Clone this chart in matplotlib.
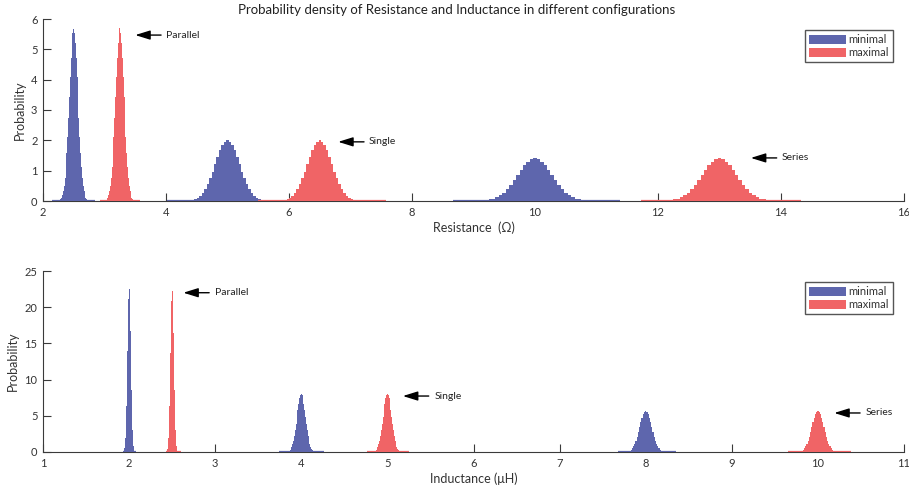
import numpy as np
import matplotlib
matplotlib.use("Agg")
import matplotlib.pyplot as plt
from matplotlib.patches import Patch

plt.rcParams['font.family'] = ['Lato', 'DejaVu Sans']

BLUE = '#5e66ad'
RED = '#f06466'
AX_COL = '#3a3a3a'

# ---------------- Resistance panel ----------------
r_centers_min = [2.5, 5.0, 10.0]
r_centers_max = [3.25, 6.5, 13.0]
r_bin_width = [0.014, 0.04, 0.056]
r_range_min = [(2.15, 2.85), (4.02, 5.48), (8.66, 11.38)]
r_range_max = [(2.93, 3.58), (5.50, 7.57), (11.73, 14.33)]

r_par_min = [0.01, 0.02, 0.03, 0.06, 0.11, 0.19, 0.32, 0.50, 0.76, 1.12, 1.57, 2.12, 2.75,
             3.43, 4.10, 4.72, 5.22, 5.54, 5.68, 5.54, 5.22, 4.72, 4.10, 3.43, 2.75, 2.12,
             1.57, 1.12, 0.76, 0.50, 0.32, 0.19, 0.11, 0.06, 0.03, 0.02, 0.01]
r_par_max = [0.01, 0.02, 0.03, 0.06, 0.11, 0.19, 0.32, 0.50, 0.76, 1.12, 1.57, 2.12, 2.75,
             3.43, 4.10, 4.72, 5.22, 5.54, 5.70, 5.54, 5.22, 4.72, 4.10, 3.43, 2.75, 2.12,
             1.57, 1.12, 0.76, 0.50, 0.32, 0.19, 0.11, 0.06, 0.03, 0.02, 0.01]
r_sgl_min = [0.00, 0.01, 0.01, 0.02, 0.04, 0.07, 0.11, 0.18, 0.27, 0.40, 0.56, 0.75, 0.97,
             1.21, 1.45, 1.67, 1.85, 1.96, 2.00, 1.96, 1.85, 1.67, 1.45, 1.21, 0.97, 0.75,
             0.56, 0.40, 0.27, 0.18, 0.11, 0.07, 0.04, 0.02, 0.01, 0.01, 0.00]
r_sgl_max = [0.00, 0.01, 0.01, 0.02, 0.04, 0.07, 0.11, 0.18, 0.27, 0.40, 0.56, 0.75, 0.97,
             1.21, 1.45, 1.67, 1.85, 1.96, 2.00, 1.96, 1.85, 1.67, 1.45, 1.21, 0.97, 0.75,
             0.56, 0.40, 0.27, 0.18, 0.11, 0.07, 0.04, 0.02, 0.01, 0.01, 0.00]
r_ser_min = [0.00, 0.00, 0.01, 0.02, 0.03, 0.05, 0.08, 0.13, 0.19, 0.28, 0.39, 0.53, 0.69,
             0.86, 1.02, 1.18, 1.30, 1.38, 1.41, 1.38, 1.30, 1.18, 1.02, 0.86, 0.69, 0.53,
             0.39, 0.28, 0.19, 0.13, 0.08, 0.05, 0.03, 0.02, 0.01, 0.00, 0.00]
r_ser_max = [0.00, 0.00, 0.01, 0.02, 0.03, 0.05, 0.08, 0.13, 0.19, 0.28, 0.39, 0.53, 0.69,
             0.86, 1.02, 1.18, 1.30, 1.38, 1.41, 1.38, 1.30, 1.18, 1.02, 0.86, 0.69, 0.53,
             0.39, 0.28, 0.19, 0.13, 0.08, 0.05, 0.03, 0.02, 0.01, 0.00, 0.00]

# ---------------- Inductance panel ----------------
l_centers_min = [2.0, 4.0, 8.0]
l_centers_max = [2.5, 5.0, 10.0]
l_bin_width = [0.0038, 0.01, 0.014]
l_range_min = [(1.93, 2.08), (3.74, 4.26), (7.68, 8.35)]
l_range_max = [(2.43, 2.60), (4.76, 5.25), (9.65, 10.38)]

l_par_min = [0.0, 0.1, 0.1, 0.3, 0.5, 0.8, 1.3, 2.0, 3.1, 4.6, 6.4, 8.6, 11.2, 14.0, 16.7,
             19.2, 21.2, 22.5, 23.0, 22.5, 21.2, 19.2, 16.7, 14.0, 11.2, 8.6, 6.4, 4.6, 3.1,
             2.0, 1.3, 0.8, 0.5, 0.3, 0.1, 0.1, 0.0]
l_par_max = [0.0, 0.1, 0.1, 0.3, 0.4, 0.8, 1.3, 2.0, 3.1, 4.5, 6.3, 8.5, 11.0, 13.7, 16.4,
             18.9, 20.9, 22.2, 22.6, 22.2, 20.9, 18.9, 16.4, 13.7, 11.0, 8.5, 6.3, 4.5, 3.1,
             2.0, 1.3, 0.8, 0.4, 0.3, 0.1, 0.1, 0.0]
l_sgl_min = [0.01, 0.02, 0.05, 0.09, 0.16, 0.27, 0.45, 0.71, 1.08, 1.58, 2.22, 3.00, 3.89,
             4.85, 5.81, 6.68, 7.39, 7.84, 8.00, 7.84, 7.39, 6.68, 5.81, 4.85, 3.89, 3.00,
             2.22, 1.58, 1.08, 0.71, 0.45, 0.27, 0.16, 0.09, 0.05, 0.02, 0.01]
l_sgl_max = [0.01, 0.02, 0.05, 0.09, 0.16, 0.27, 0.45, 0.71, 1.08, 1.58, 2.22, 3.00, 3.89,
             4.85, 5.81, 6.68, 7.39, 7.84, 8.00, 7.84, 7.39, 6.68, 5.81, 4.85, 3.89, 3.00,
             2.22, 1.58, 1.08, 0.71, 0.45, 0.27, 0.16, 0.09, 0.05, 0.02, 0.01]
l_ser_min = [0.01, 0.02, 0.03, 0.06, 0.11, 0.19, 0.32, 0.50, 0.76, 1.12, 1.57, 2.12, 2.75,
             3.43, 4.10, 4.72, 5.22, 5.54, 5.65, 5.54, 5.22, 4.72, 4.10, 3.43, 2.75, 2.12,
             1.57, 1.12, 0.76, 0.50, 0.32, 0.19, 0.11, 0.06, 0.03, 0.02, 0.01]
l_ser_max = [0.01, 0.02, 0.03, 0.06, 0.11, 0.19, 0.32, 0.50, 0.76, 1.12, 1.57, 2.12, 2.75,
             3.43, 4.10, 4.72, 5.22, 5.54, 5.65, 5.54, 5.22, 4.72, 4.10, 3.43, 2.75, 2.12,
             1.57, 1.12, 0.76, 0.50, 0.32, 0.19, 0.11, 0.06, 0.03, 0.02, 0.01]

config_names = ['Parallel', 'Single', 'Series']
r_arrow_head = [(3.50, 5.47), (6.80, 1.95), (13.51, 1.42)]
l_arrow_head = [(2.63, 22.0), (5.18, 7.73), (10.19, 5.39)]

r_xticks = [2, 4, 6, 8, 10, 12, 14, 16]
r_yticks = [0, 1, 2, 3, 4, 5, 6]
l_xticks = [1, 2, 3, 4, 5, 6, 7, 8, 9, 10, 11]
l_yticks = [0, 5, 10, 15, 20, 25]


def draw_hist(ax, center, width, heights, span, color):
    n = len(heights)
    edges = center + (np.arange(n + 1) - n / 2.0) * width
    h = np.append(heights, heights[-1])
    ax.fill_between(edges, 0, h, step='post', facecolor=color, edgecolor='none',
                    linewidth=0, antialiased=False, zorder=3)
    ax.hlines(0, span[0], span[1], color=color, linewidth=1.6, zorder=3)


def style_axes(ax, xlim, ylim, xticks, yticks, xlabel):
    ax.set_xlim(*xlim)
    ax.set_ylim(*ylim)
    ax.set_xticks(xticks)
    ax.set_yticks(yticks)
    for s in ('top', 'right'):
        ax.spines[s].set_visible(False)
    for s in ('left', 'bottom'):
        ax.spines[s].set_color(AX_COL)
        ax.spines[s].set_linewidth(0.8)
        ax.spines[s].set_zorder(1)
    ax.tick_params(direction='in', length=6, width=0.8, color=AX_COL,
                   labelcolor='#333333', labelsize=8, pad=4)
    ax.set_xlabel(xlabel, fontsize=9, color='#333333', labelpad=3)
    ax.set_ylabel('Probability', fontsize=9, color='#333333', labelpad=4)
    handles = [Patch(facecolor=BLUE, edgecolor='none', label='minimal'),
               Patch(facecolor=RED, edgecolor='none', label='maximal')]
    leg = ax.legend(handles=handles, loc='upper right', fontsize=8, frameon=True,
                    fancybox=False, edgecolor='#555555', framealpha=1,
                    handlelength=3.3, handleheight=0.85, handletextpad=0.25,
                    borderpad=0.35, labelspacing=0.2, borderaxespad=1.0)
    leg.get_frame().set_linewidth(1.0)
    for t in leg.get_texts():
        t.set_color('#333333')


def draw_arrows(ax, heads, dx_tail, dx_text):
    for name, (hx, hy) in zip(config_names, heads):
        ax.annotate('', xy=(hx, hy), xytext=(hx + dx_tail, hy),
                    arrowprops=dict(arrowstyle='-|>,head_length=0.9,head_width=0.28',
                                    color='black', lw=1.0, shrinkA=0, shrinkB=0),
                    zorder=5)
        ax.text(hx + dx_text, hy, name, fontsize=7.5, color='#222222',
                va='center', ha='left')


fig = plt.figure(figsize=(9.09, 4.93), dpi=100)
W, H = 909.0, 493.0
ax1 = fig.add_axes([43 / W, 1 - 201 / H, 861 / W, 182 / H])
ax2 = fig.add_axes([43 / W, 1 - 452 / H, 861 / W, 181 / H])

# Resistance
r_min_sets = [r_par_min, r_sgl_min, r_ser_min]
r_max_sets = [r_par_max, r_sgl_max, r_ser_max]
for i in range(3):
    draw_hist(ax1, r_centers_min[i], r_bin_width[i], r_min_sets[i], r_range_min[i], BLUE)
    draw_hist(ax1, r_centers_max[i], r_bin_width[i], r_max_sets[i], r_range_max[i], RED)
style_axes(ax1, (2, 16), (0, 6), r_xticks, r_yticks, 'Resistance  (\u03a9)')
draw_arrows(ax1, r_arrow_head, 0.42, 0.50)

# Inductance
l_min_sets = [l_par_min, l_sgl_min, l_ser_min]
l_max_sets = [l_par_max, l_sgl_max, l_ser_max]
for i in range(3):
    draw_hist(ax2, l_centers_min[i], l_bin_width[i], l_min_sets[i], l_range_min[i], BLUE)
    draw_hist(ax2, l_centers_max[i], l_bin_width[i], l_max_sets[i], l_range_max[i], RED)
style_axes(ax2, (1, 11), (0, 25), l_xticks, l_yticks, 'Inductance (\u03bcH)')
draw_arrows(ax2, l_arrow_head, 0.30, 0.37)

fig.text(457 / W, 1 - 10 / H, 'Probability density of Resistance and Inductance in different configurations',
         ha='center', va='center', fontsize=9.5, color='#222222')

fig.savefig('out.png', dpi=100)
